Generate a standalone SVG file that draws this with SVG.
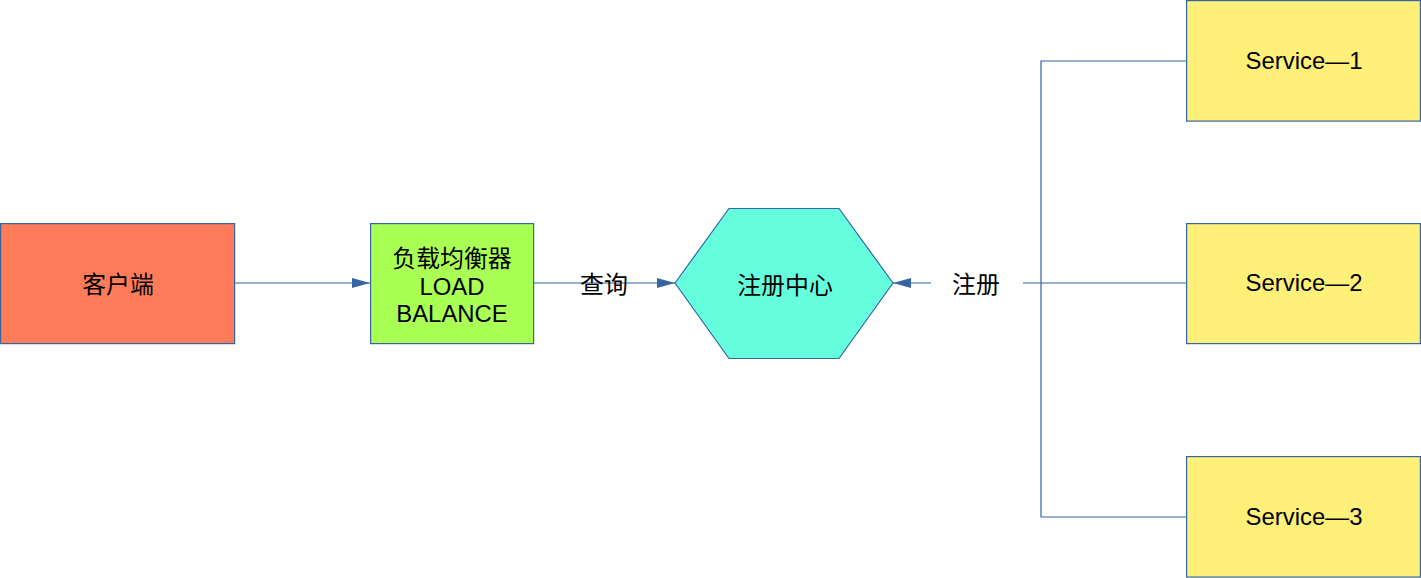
<svg xmlns="http://www.w3.org/2000/svg" width="1421" height="578" viewBox="0 0 1421 578">
<defs>
<style>
.box{stroke:#3465A4;stroke-width:1.2}
.txt{font-family:"Liberation Sans","Noto Sans CJK SC",sans-serif;font-size:23.9px;fill:#000;text-anchor:middle}
.ln{stroke:#3465A4;stroke-width:1.2;fill:none}
</style>
<marker id="ah" viewBox="0 0 18 10" refX="18" refY="5" markerWidth="18" markerHeight="10" markerUnits="userSpaceOnUse" orient="auto">
<path d="M0,0 L18,5 L0,10 Z" fill="#3465A4"/>
</marker>
</defs>
<rect width="1421" height="578" fill="#fff"/>
<g id="connectors">
<line class="ln" x1="235" y1="283" x2="370" y2="283" marker-end="url(#ah)"/>
<line class="ln" x1="533" y1="283" x2="675" y2="283" marker-end="url(#ah)"/>
<text class="txt" x="604" y="293">查询</text>
<line class="ln" x1="931" y1="283" x2="893" y2="283" marker-end="url(#ah)"/>
<text class="txt" x="976" y="293">注册</text>
<line class="ln" x1="1023" y1="283" x2="1186" y2="283"/>
<polyline class="ln" points="1186,61 1041,61 1041,517 1186,517"/>
</g>
<g id="client">
<rect class="box" x="0.6" y="223.6" width="234" height="120" fill="#FF7B59"/>
<text class="txt" x="118" y="293">客户端</text>
</g>
<g id="lb">
<rect class="box" x="370.6" y="223.6" width="163" height="120" fill="#AAFF55"/>
<text class="txt" x="452" y="267">负载均衡器</text>
<text class="txt" x="452" y="295">LOAD</text>
<text class="txt" x="452" y="322">BALANCE</text>
</g>
<g id="registry">
<polygon class="box" points="675,283 729,208.5 839,208.5 893,283 839,358.5 729,358.5" fill="#66FFDD"/>
<text class="txt" x="785" y="294">注册中心</text>
</g>
<g id="service1">
<rect class="box" x="1186.6" y="0.6" width="233.8" height="120.5" fill="#FFF07A"/>
<text class="txt" x="1304" y="69">Service—1</text>
</g>
<g id="service2">
<rect class="box" x="1186.6" y="223.6" width="233.8" height="120" fill="#FFF07A"/>
<text class="txt" x="1304" y="291">Service—2</text>
</g>
<g id="service3">
<rect class="box" x="1186.6" y="456.6" width="233.8" height="120.5" fill="#FFF07A"/>
<text class="txt" x="1304" y="525">Service—3</text>
</g>
</svg>
